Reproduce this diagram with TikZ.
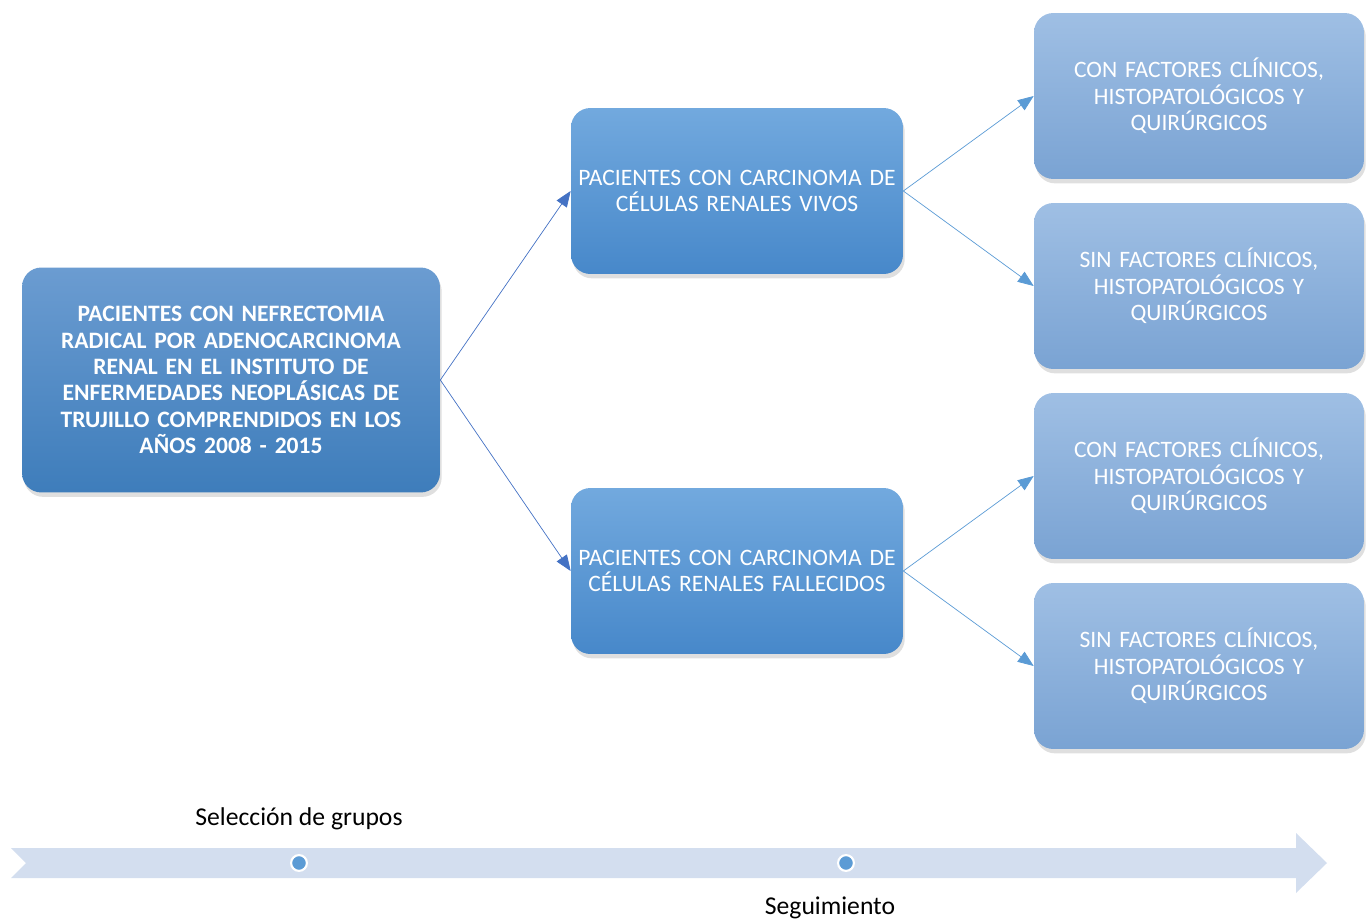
\documentclass[tikz,border=0pt]{standalone}
\usepackage{fontspec}
\setmainfont{Carlito}[WordSpace={0.5,0.3,0.3}]
\newfontfamily\stagefont{Carlito}
\usetikzlibrary{arrows.meta,shadows}
\definecolor{rootTop}{HTML}{6B9CD1}
\definecolor{rootBot}{HTML}{3E7DBB}
\definecolor{midTop}{HTML}{72A9DE}
\definecolor{midBot}{HTML}{4788CA}
\definecolor{leafTop}{HTML}{9FBFE4}
\definecolor{leafBot}{HTML}{7AA3D3}
\definecolor{bandcol}{HTML}{D3DEEF}
\definecolor{dotcol}{HTML}{5B9BD5}
\definecolor{linkA}{HTML}{4472C4}
\definecolor{linkB}{HTML}{5B9BD5}
\begin{document}
\begin{tikzpicture}[x=0.02cm,y=-0.02cm,
    box/.style={rounded corners=11pt, text=white, align=center, inner sep=2pt,
        drop shadow={shadow xshift=1pt, shadow yshift=-2.5pt, opacity=0.25},
        font=\fontsize{13.4}{15}\selectfont},
    rootbox/.style={box, top color=rootTop, bottom color=rootBot,
        minimum width=8.36cm, minimum height=4.5cm, text width=8.2cm,
        font=\fontsize{13.4}{15}\selectfont\bfseries},
    midbox/.style={box, top color=midTop, bottom color=midBot,
        minimum width=6.6cm, minimum height=3.32cm, text width=6.5cm},
    leafbox/.style={box, top color=leafTop, bottom color=leafBot,
        minimum width=6.6cm, minimum height=3.32cm, text width=6.4cm},
    linkA/.style={draw=linkA, -{Triangle[length=9pt,width=7pt]}},
    linkB/.style={draw=linkB, -{Triangle[length=9pt,width=7pt]}},
    mark dot/.style={circle, fill=dotcol, draw=white, line width=1.2pt, minimum size=9pt, inner sep=0pt},
    stage/.style={font=\stagefont\fontsize{14.6}{17}\selectfont, text=black}]
    \useasboundingbox (0,0) rectangle (1370,923);

    % boxes
    \node[rootbox] (root) at (231,380) {PACIENTES CON NEFRECTOMIA\\RADICAL POR ADENOCARCINOMA\\RENAL EN EL INSTITUTO DE\\ENFERMEDADES NEOPLÁSICAS DE\\TRUJILLO COMPRENDIDOS EN LOS\\AÑOS 2008 - 2015};
    \node[midbox] (vivos) at (737,191) {PACIENTES CON CARCINOMA DE\\CÉLULAS RENALES VIVOS};
    \node[midbox] (fallec) at (737,571) {PACIENTES CON CARCINOMA DE\\CÉLULAS RENALES FALLECIDOS};
    \node[leafbox] (vcon) at (1199,96) {CON FACTORES CLÍNICOS,\\HISTOPATOLÓGICOS Y\\QUIRÚRGICOS};
    \node[leafbox] (vsin) at (1199,286) {SIN FACTORES CLÍNICOS,\\HISTOPATOLÓGICOS Y\\QUIRÚRGICOS};
    \node[leafbox] (fcon) at (1199,476) {CON FACTORES CLÍNICOS,\\HISTOPATOLÓGICOS Y\\QUIRÚRGICOS};
    \node[leafbox] (fsin) at (1199,666) {SIN FACTORES CLÍNICOS,\\HISTOPATOLÓGICOS Y\\QUIRÚRGICOS};

    % links
    \draw[linkA] (root.east) -- (vivos.west);
    \draw[linkA] (root.east) -- (fallec.west);
    \draw[linkB] (vivos.east) -- (vcon.west);
    \draw[linkB] (vivos.east) -- (vsin.west);
    \draw[linkB] (fallec.east) -- (fcon.west);
    \draw[linkB] (fallec.east) -- (fsin.west);

    % timeline
    \fill[bandcol] (11,848) -- (1296,848) -- (1296,833) -- (1327,863) -- (1296,893) -- (1296,878) -- (11,878) -- (26,863) -- cycle;
    \node[mark dot] (sel) at (299,863) {};
    \node[mark dot] (seg) at (846,863) {};
    \node[stage] (sellabel) at (299,819) {Selección de grupos};
    \node[stage] (seglabel) at (830,908) {Seguimiento};
\end{tikzpicture}
\end{document}
